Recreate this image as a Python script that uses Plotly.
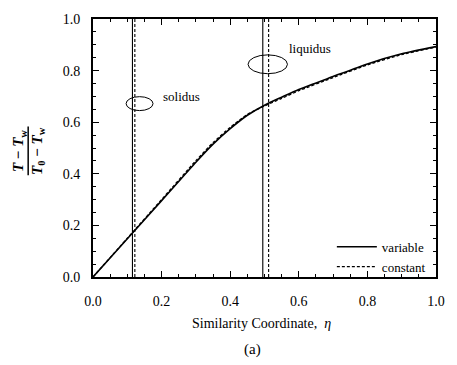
import plotly.graph_objects as go

# --- data ---
eta = [0.0, 0.1, 0.2, 0.3, 0.35, 0.4, 0.45, 0.5, 0.55, 0.6, 0.7, 0.8, 0.9, 1.0]
theta_variable = [0.0, 0.148, 0.296, 0.445, 0.515, 0.575, 0.627, 0.666, 0.697, 0.727, 0.777, 0.826, 0.865, 0.893]
theta_constant = [0.0, 0.150, 0.300, 0.451, 0.521, 0.580, 0.630, 0.663, 0.692, 0.722, 0.773, 0.822, 0.862, 0.891]
solidus_variable = 0.115
solidus_constant = 0.122
liquidus_variable = 0.495
liquidus_constant = 0.512
x_ticks = [0.0, 0.2, 0.4, 0.6, 0.8, 1.0]
y_ticks = [0.0, 0.2, 0.4, 0.6, 0.8, 1.0]

SERIF = "Liberation Serif"
fig = go.Figure()

fig.add_trace(go.Scatter(x=eta, y=theta_variable, mode="lines", name="variable",
                         line=dict(color="black", width=1.6, shape="spline", smoothing=0.6)))
fig.add_trace(go.Scatter(x=eta, y=theta_constant, mode="lines", name="constant",
                         line=dict(color="black", width=1.3, dash="3px,2px", shape="spline", smoothing=0.6)))

for xv, dash in [(solidus_variable, "solid"), (liquidus_variable, "solid"),
                 (solidus_constant, "3px,2px"), (liquidus_constant, "3px,2px")]:
    fig.add_trace(go.Scatter(x=[xv, xv], y=[0, 1], mode="lines", showlegend=False,
                             line=dict(color="black", width=1.1, dash=dash), hoverinfo="skip"))

# ellipses
fig.add_shape(type="circle", xref="x", yref="y", x0=0.0965, x1=0.175, y0=0.645, y1=0.699,
              line=dict(color="black", width=1))
fig.add_shape(type="circle", xref="x", yref="y", x0=0.452, x1=0.567, y0=0.788, y1=0.861,
              line=dict(color="black", width=1))
fig.add_annotation(x=0.197, y=0.70, xref="x", yref="y", text="solidus", showarrow=False,
                   xanchor="left", yanchor="middle", font=dict(family=SERIF, size=13, color="black"))
fig.add_annotation(x=0.567, y=0.887, xref="x", yref="y", text="liquidus", showarrow=False,
                   xanchor="left", yanchor="middle", font=dict(family=SERIF, size=13, color="black"))

# y title as fraction
fig.add_annotation(x=-0.215, y=0.489, xref="paper", yref="paper", text="<b><i>T</i> − <i>T</i><sub>w</sub></b>",
                   textangle=-90, showarrow=False, xanchor="center", yanchor="middle",
                   font=dict(family=SERIF, size=15, color="black"))
fig.add_annotation(x=-0.16, y=0.489, xref="paper", yref="paper", text="<b><i>T</i><sub>0</sub> − <i>T</i><sub>w</sub></b>",
                   textangle=-90, showarrow=False, xanchor="center", yanchor="middle",
                   font=dict(family=SERIF, size=15, color="black"))
fig.add_shape(type="line", xref="paper", yref="paper", x0=-0.189, x1=-0.189, y0=0.394, y1=0.583,
              line=dict(color="black", width=1.5))

# x title and caption
fig.add_annotation(x=0.49, y=-0.182, xref="paper", yref="paper", text="Similarity Coordinate,  <i>η</i>",
                   showarrow=False, xanchor="center", yanchor="middle",
                   font=dict(family=SERIF, size=14, color="black"))
fig.add_annotation(x=0.465, y=-0.28, xref="paper", yref="paper", text="(a)",
                   showarrow=False, xanchor="center", yanchor="middle",
                   font=dict(family=SERIF, size=15, color="black"))

axis_common = dict(range=[0, 1], showline=True, linecolor="black", linewidth=2,
                   mirror="allticks", ticks="inside", ticklen=6, tickwidth=1.2, tickcolor="black",
                   showgrid=False, zeroline=False, tickformat=".1f",
                   tickfont=dict(family=SERIF, size=14, color="black"),
                   minor=dict(dtick=0.05, ticks="inside", ticklen=3, tickwidth=1, tickcolor="black", showgrid=False))

fig.update_xaxes(**axis_common, tickvals=x_ticks, ticklabelstandoff=10)
fig.update_yaxes(**axis_common, tickvals=y_ticks, ticklabelstandoff=8)

fig.update_layout(
    width=457, height=365,
    margin=dict(l=93, r=15, t=13, b=88),
    paper_bgcolor="white", plot_bgcolor="white",
    showlegend=True,
    legend=dict(x=0.985, y=0.175, xanchor="right", yanchor="top",
                bgcolor="rgba(0,0,0,0)", tracegroupgap=0, itemwidth=40,
                font=dict(family=SERIF, size=13, color="black")),
)

fig.write_html("out.html")
